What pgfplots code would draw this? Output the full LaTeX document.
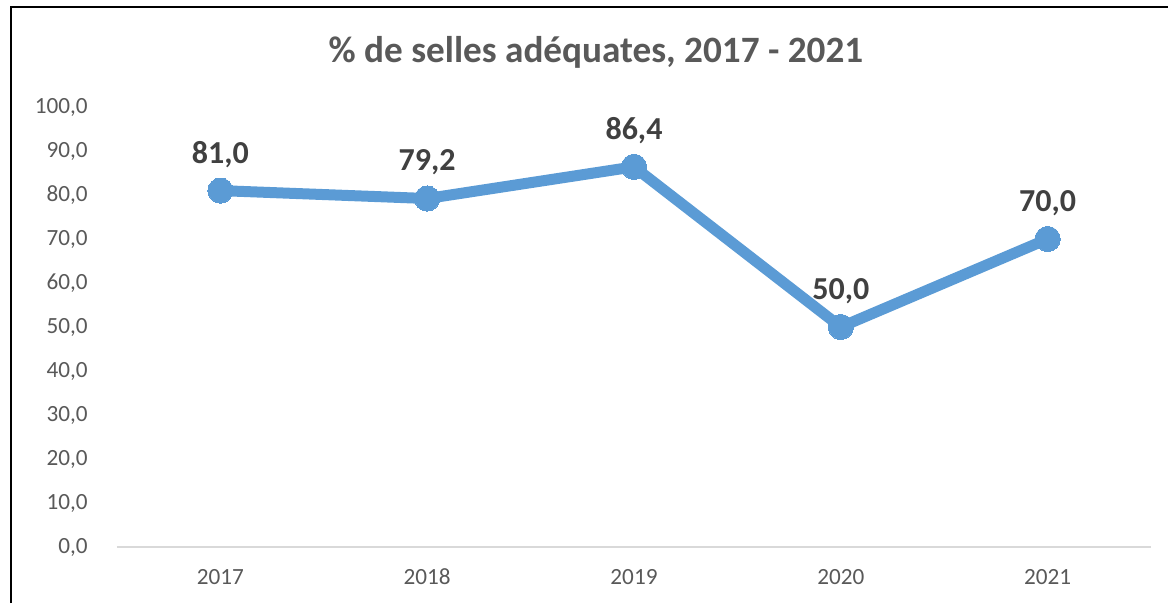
\documentclass[border=0pt]{standalone}
\usepackage{pgfplots}
\pgfplotsset{compat=1.18}
\usepackage{fontspec}
\setmainfont{Carlito}
\definecolor{linec}{HTML}{5B9BD5}
\definecolor{tickc}{HTML}{595959}
\definecolor{labc}{HTML}{404040}
\definecolor{gridc}{HTML}{D9D9D9}
\begin{document}
\begin{tikzpicture}
\begin{axis}[
  scale only axis, width=517bp, height=220bp,
  xmin=-0.5, xmax=4.5, ymin=0, ymax=100,
  axis x line*=bottom, axis y line*=left,
  x axis line style={draw=gridc, line width=0.7bp},
  y axis line style={draw=none},
  major tick length=0pt,
  xtick={0,1,2,3,4}, xticklabels={2017,2018,2019,2020,2021},
  ytick={0,10,...,100},
  /pgf/number format/fixed, /pgf/number format/fixed zerofill,
  /pgf/number format/precision=1, /pgf/number format/use comma,
  /pgf/number format/assume math mode=true,
  tick label style={font=\fontsize{11.6bp}{14bp}\selectfont, text=tickc},
  yticklabel style={anchor=east, inner sep=0pt, xshift=-14.5bp},
  xticklabel style={anchor=center, inner sep=0pt, yshift=-15bp},
  clip=false,
  nodes near coords,
  nodes near coords style={font=\bfseries\fontsize{16bp}{19bp}\selectfont, text=labc, anchor=center, yshift=18bp},
]
\addplot[linec, line width=5.5bp, line join=round, mark=*, mark size=6.3bp, mark options={fill=linec, draw=linec, line width=0pt}]
  coordinates {(0,81.0) (1,79.2) (2,86.4) (3,50.0) (4,70.0)};
\coordinate (BL) at (rel axis cs:-0.11315,-0.12727);
\coordinate (TR) at (rel axis cs:1.01644,1.24318);
\coordinate (F) at (rel axis cs:-0.10251,1.22727);
\node[font=\bfseries\fontsize{18.6bp}{22bp}\selectfont, text=tickc] at (rel axis cs:0.4632,1.125) {\% de selles adéquates, 2017 - 2021};
\end{axis}
\pgfresetboundingbox
\useasboundingbox (BL) rectangle (TR);
\draw[line width=1bp, black] (F |- BL) -- (F) -- (F -| TR);
\end{tikzpicture}
\end{document}
